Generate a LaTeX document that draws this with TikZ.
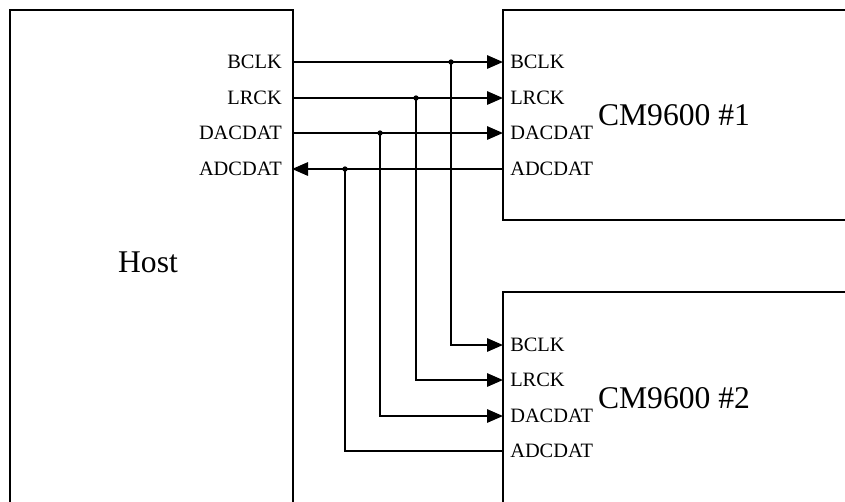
\documentclass[tikz,border=0pt]{standalone}
\usepackage{fontspec}
\setmainfont{Liberation Serif}
\usetikzlibrary{arrows.meta}
\begin{document}
\begin{tikzpicture}[x=0.75pt,y=-0.75pt,
  box/.style={draw,line width=1.5pt,inner sep=0pt,outer sep=0pt,anchor=north west},
  wire/.style={line width=1.5pt},
  arr/.style={wire,-{Triangle[length=12pt,width=10pt]}},
  port/.style={font=\fontsize{15.3}{17}\selectfont,inner sep=0pt},
  title/.style={font=\fontsize{23.7}{26}\selectfont,inner sep=0pt},
  dot/.style={circle,fill,inner sep=0pt,minimum size=4pt}]
\useasboundingbox (0,0) rectangle (845,501);
\clip (0,0) rectangle (845,501);
% boxes
\node[box,minimum width=212.25pt,minimum height=400pt] (host) at (9.5,9.5) {};
\node[box,minimum width=270pt,minimum height=157.5pt] (cm1) at (503,9.5) {};
\node[box,minimum width=270pt,minimum height=200pt] (cm2) at (503,292) {};
\node[title] (hostt) at (148,262) {Host};
\node[title] (cm1t) at (674,115) {CM9600 \#1};
\node[title] (cm2t) at (674,398) {CM9600 \#2};
% port coordinates
\foreach \n/\y in {b/62,l/98,d/133,a/169}{
  \coordinate (h\n) at (292,\y);
  \coordinate (c\n) at (503,\y);
}
\foreach \n/\y in {b/345,l/380,d/416,a/451}{
  \coordinate (e\n) at (503,\y);
}
% port labels
\node[port,anchor=east] (hbl) at (282,62) {BCLK};
\node[port,anchor=east] (hll) at (282,98) {LRCK};
\node[port,anchor=east] (hdl) at (282,133) {DACDAT};
\node[port,anchor=east] (hal) at (282,169) {ADCDAT};
\node[port,anchor=west] (cbl) at (510,62) {BCLK};
\node[port,anchor=west] (cll) at (510,98) {LRCK};
\node[port,anchor=west] (cdl) at (510,133) {DACDAT};
\node[port,anchor=west] (cal) at (510,169) {ADCDAT};
\node[port,anchor=west] (ebl) at (510,345) {BCLK};
\node[port,anchor=west] (ell) at (510,380) {LRCK};
\node[port,anchor=west] (edl) at (510,416) {DACDAT};
\node[port,anchor=west] (eal) at (510,451) {ADCDAT};
% junctions
\node[dot] (jb) at (451,62) {};
\node[dot] (jl) at (416,98) {};
\node[dot] (jd) at (380,133) {};
\node[dot] (ja) at (345,169) {};
% wires
\draw[arr] (hb) -- (cb);
\draw[arr] (hl) -- (cl);
\draw[arr] (hd) -- (cd);
\draw[arr] (ca) -- (ha);
\draw[arr] (jb.center) |- (eb);
\draw[arr] (jl.center) |- (el);
\draw[arr] (jd.center) |- (ed);
\draw[wire] (ja.center) |- (ea);
\end{tikzpicture}
\end{document}
